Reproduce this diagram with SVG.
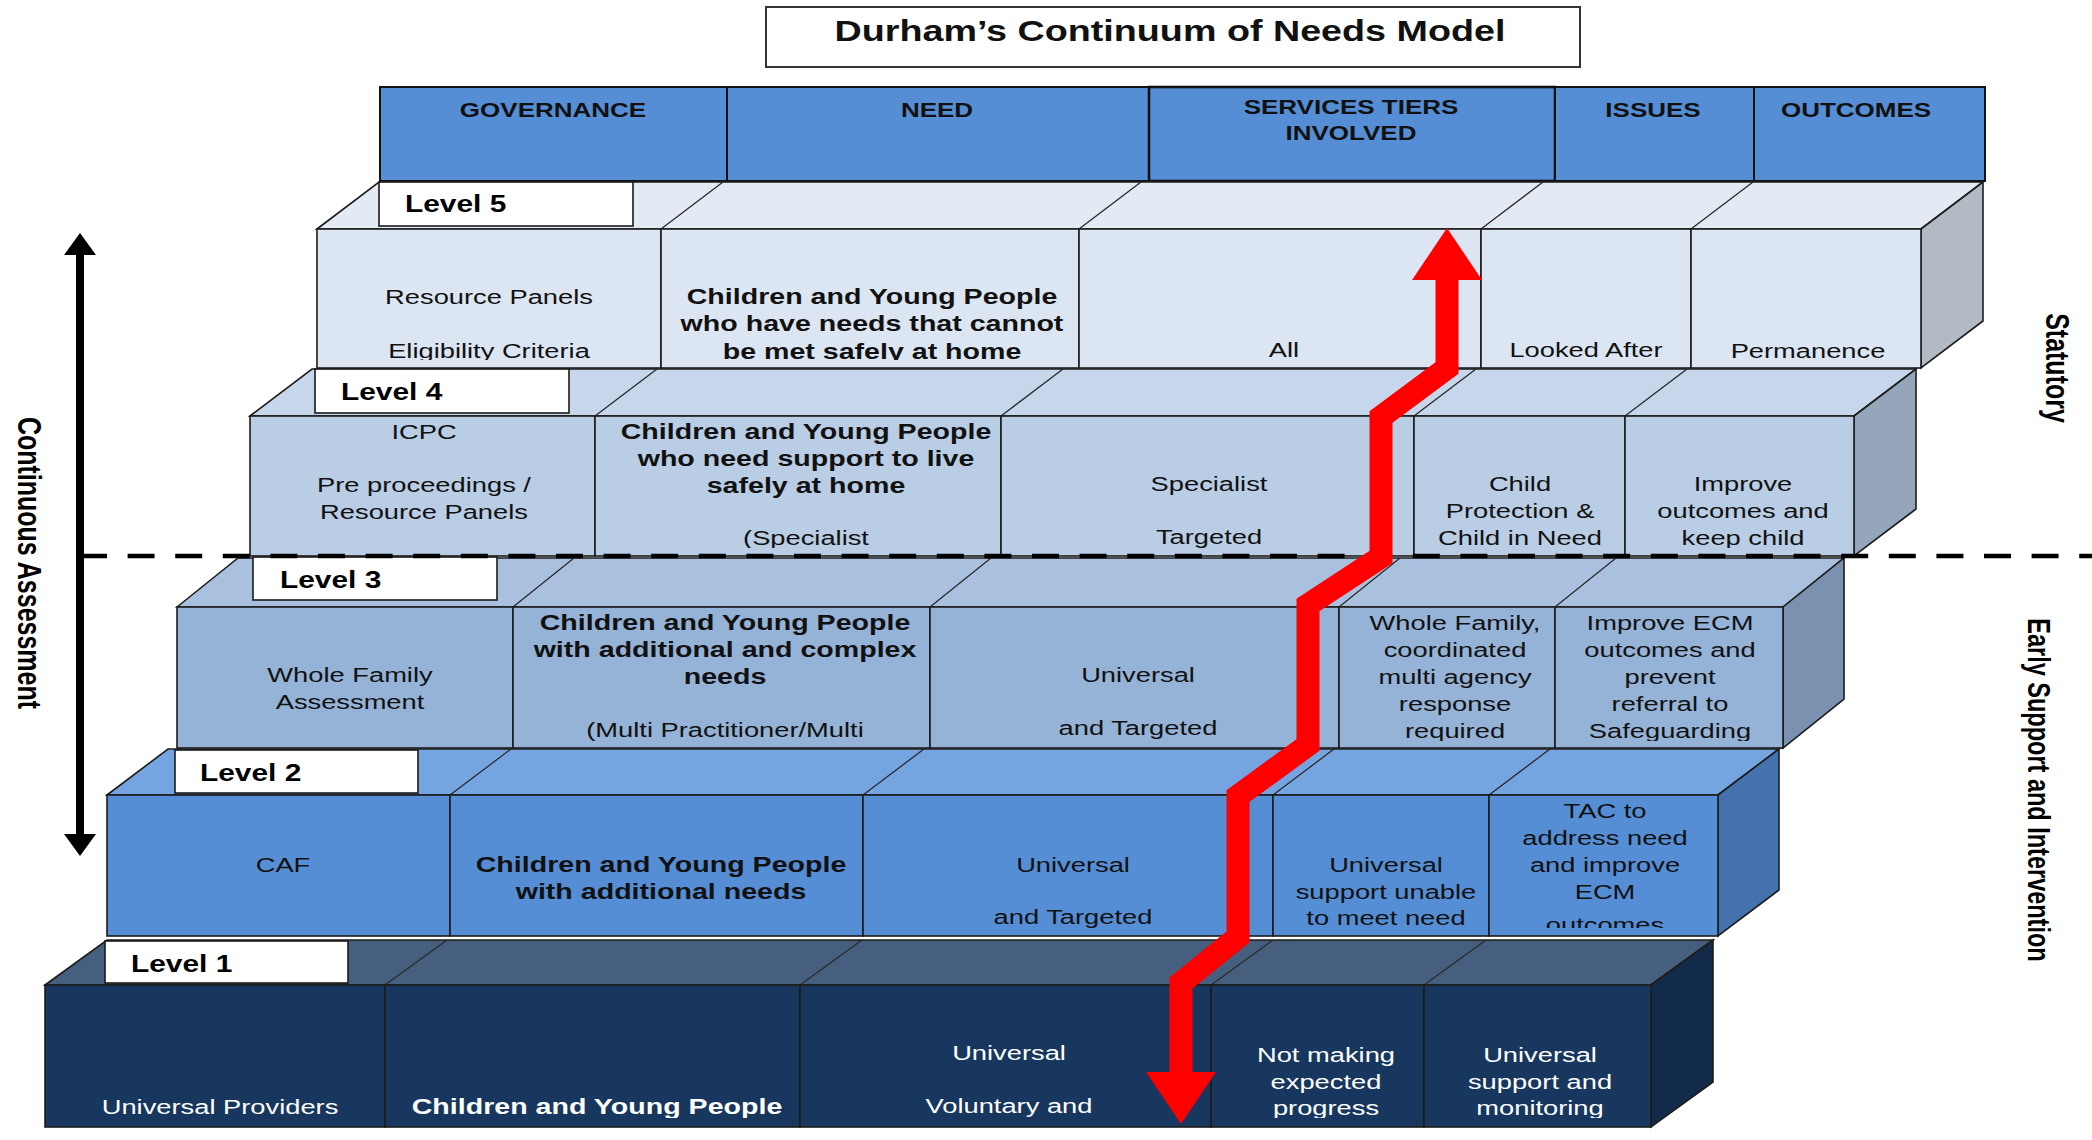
<svg xmlns="http://www.w3.org/2000/svg" width="2092" height="1140" viewBox="0 0 2092 1140">
<style>
.t{font-family:"Liberation Sans",Arial,sans-serif;font-size:21px;text-anchor:middle;fill:#111}
.b{font-weight:bold;font-size:22px}
.w{fill:#fff}
.hd{font-family:"Liberation Sans",Arial,sans-serif;font-weight:bold;font-size:20px;text-anchor:middle;fill:#111}
.lbl{font-family:"Liberation Sans",Arial,sans-serif;font-weight:bold;font-size:23px;fill:#000}
.side{font-family:"Liberation Sans",Arial,sans-serif;font-weight:bold;font-size:25px;text-anchor:middle;fill:#000}
.box{stroke:#1c1c1c;stroke-width:1.6}
.ln{stroke:#2a2a2a;stroke-width:1.3;fill:none}
.lb{fill:#fff;stroke:#1a1a1a;stroke-width:1.6}
.h{fill:#558ED5;stroke:#111;stroke-width:2}
.f5{fill:#DCE6F2}.p5{fill:#E3EAF4}.s5{fill:#B2BAC4}
.f4{fill:#B9CDE5}.p4{fill:#C6D6EB}.s4{fill:#95A6BA}
.f3{fill:#95B3D7}.p3{fill:#AAC0DF}.s3{fill:#7A91AF}
.f2{fill:#558ED5}.p2{fill:#75A5E0}.s2{fill:#4472AE}
.f1{fill:#17375E}.p1{fill:#465F7E}.s1{fill:#132B4A}
</style>
<defs>
<clipPath id="c5"><rect x="0" y="229" width="2092" height="131"/></clipPath>
<clipPath id="c4"><rect x="0" y="416" width="2092" height="132"/></clipPath>
<clipPath id="c3"><rect x="0" y="607" width="2092" height="134"/></clipPath>
<clipPath id="c2"><rect x="0" y="795" width="2092" height="133"/></clipPath>
<clipPath id="c1"><rect x="0" y="985" width="2092" height="133"/></clipPath>
<marker id="redHead" markerUnits="userSpaceOnUse" markerWidth="52" markerHeight="70" refX="0" refY="35" orient="auto-start-reverse" viewBox="0 0 52 70">
<path d="M0,0 L52,35 L0,70 Z" fill="#FF0000"/>
</marker>
<marker id="blkHead" markerUnits="userSpaceOnUse" markerWidth="22" markerHeight="32" refX="0" refY="16" orient="auto-start-reverse" viewBox="0 0 22 32">
<path d="M0,0 L22,16 L0,32 Z" fill="#000"/>
</marker>
</defs>
<rect width="2092" height="1140" fill="#fff"/>

<g id="title">
<rect x="766" y="7" width="814" height="60" fill="#fff" stroke="#333" stroke-width="2"/>
<g transform="translate(1170 0) scale(1.3 1)"><text class="hd" style="font-size:29px" y="41">Durham’s Continuum of Needs Model</text></g>
</g>

<g id="header">
<rect class="h" x="380" y="87" width="347" height="94"/>
<rect class="h" x="727" y="87" width="422" height="94"/>
<rect class="h" x="1149" y="87" width="406" height="94" style="stroke-width:2.6"/>
<rect class="h" x="1555" y="87" width="199" height="94"/>
<rect class="h" x="1754" y="87" width="231" height="94"/>
<g transform="translate(553 0) scale(1.3 1)"><text class="hd" y="117">GOVERNANCE</text></g>
<g transform="translate(937 0) scale(1.3 1)"><text class="hd" y="117">NEED</text></g>
<g transform="translate(1351 0) scale(1.3 1)"><text class="hd" y="114">SERVICES  TIERS</text><text class="hd" y="140">INVOLVED</text></g>
<g transform="translate(1653 0) scale(1.3 1)"><text class="hd" y="117">ISSUES</text></g>
<g transform="translate(1856 0) scale(1.3 1)"><text class="hd" y="117">OUTCOMES</text></g>
</g>

<!-- LEVEL 5 -->
<g id="level5">
<polygon class="p5 box" points="317,229 379,182 1983,182 1921,229"/>
<polygon class="s5 box" points="1921,229 1983,182 1983,321 1921,368"/>
<path class="ln" d="M661,229 L723,182 M1079,229 L1141,182 M1481,229 L1543,182 M1691,229 L1753,182"/>
<g id="l5-label"><rect class="lb" x="379" y="182" width="254" height="44"/><g transform="translate(405 0) scale(1.3 1)"><text class="lbl" y="212">Level 5</text></g></g>
<g id="l5-governance"><rect class="f5 box" x="317" y="229" width="344" height="139"/>
<g clip-path="url(#c5)"><g transform="translate(489 0) scale(1.3 1)"><text class="t" y="304">Resource Panels</text><text class="t" y="358">Eligibility  Criteria</text></g></g></g>
<g id="l5-need"><rect class="f5 box" x="661" y="229" width="418" height="139"/>
<g clip-path="url(#c5)"><g transform="translate(872 0) scale(1.3 1)"><text class="t b" y="304">Children and Young People</text><text class="t b" y="331">who have needs that cannot</text><text class="t b" y="359">be met safely at home</text></g></g></g>
<g id="l5-services"><rect class="f5 box" x="1079" y="229" width="402" height="139"/>
<g clip-path="url(#c5)"><g transform="translate(1284 0) scale(1.3 1)"><text class="t" y="357">All</text></g></g></g>
<g id="l5-issues"><rect class="f5 box" x="1481" y="229" width="210" height="139"/>
<g clip-path="url(#c5)"><g transform="translate(1586 0) scale(1.3 1)"><text class="t" y="357">Looked After</text></g></g></g>
<g id="l5-outcomes"><rect class="f5 box" x="1691" y="229" width="230" height="139"/>
<g clip-path="url(#c5)"><g transform="translate(1808 0) scale(1.3 1)"><text class="t" y="358">Permanence</text></g></g></g>
</g>

<!-- LEVEL 4 -->
<g id="level4">
<polygon class="p4 box" points="250,416 312,369 1916,369 1854,416"/>
<polygon class="s4 box" points="1854,416 1916,369 1916,509 1854,556"/>
<path class="ln" d="M595,416 L657,369 M1001,416 L1063,369 M1414,416 L1476,369 M1625,416 L1687,369"/>
<g id="l4-label"><rect class="lb" x="315" y="369" width="254" height="44"/><g transform="translate(341 0) scale(1.3 1)"><text class="lbl" y="400">Level 4</text></g></g>
<g id="l4-governance"><rect class="f4 box" x="250" y="416" width="345" height="140"/>
<g clip-path="url(#c4)"><g transform="translate(424 0) scale(1.3 1)"><text class="t" y="439">ICPC</text><text class="t" y="492">Pre proceedings /</text><text class="t" y="519">Resource Panels</text></g></g></g>
<g id="l4-need"><rect class="f4 box" x="595" y="416" width="406" height="140"/>
<g clip-path="url(#c4)"><g transform="translate(806 0) scale(1.3 1)"><text class="t b" y="439">Children and Young People</text><text class="t b" y="466">who need support to live</text><text class="t b" y="493">safely at home</text><text class="t" y="545">(Specialist</text></g></g></g>
<g id="l4-services"><rect class="f4 box" x="1001" y="416" width="413" height="140"/>
<g clip-path="url(#c4)"><g transform="translate(1209 0) scale(1.3 1)"><text class="t" y="491">Specialist</text><text class="t" y="544">Targeted</text></g></g></g>
<g id="l4-issues"><rect class="f4 box" x="1414" y="416" width="211" height="140"/>
<g clip-path="url(#c4)"><g transform="translate(1520 0) scale(1.3 1)"><text class="t" y="491">Child</text><text class="t" y="518">Protection &amp;</text><text class="t" y="545">Child in Need</text></g></g></g>
<g id="l4-outcomes"><rect class="f4 box" x="1625" y="416" width="229" height="140"/>
<g clip-path="url(#c4)"><g transform="translate(1743 0) scale(1.3 1)"><text class="t" y="491">Improve</text><text class="t" y="518">outcomes and</text><text class="t" y="545">keep child</text></g></g></g>
</g>

<!-- LEVEL 3 -->
<g id="level3">
<polygon class="p3 box" points="177,607 238,558 1844,558 1783,607"/>
<polygon class="s3 box" points="1783,607 1844,558 1844,699 1783,748"/>
<path class="ln" d="M513,607 L574,558 M930,607 L991,558 M1339,607 L1400,558 M1555,607 L1616,558"/>
<g id="l3-label"><rect class="lb" x="253" y="557" width="244" height="43"/><g transform="translate(280 0) scale(1.3 1)"><text class="lbl" y="588">Level 3</text></g></g>
<g id="l3-governance"><rect class="f3 box" x="177" y="607" width="336" height="141"/>
<g clip-path="url(#c3)"><g transform="translate(350 0) scale(1.3 1)"><text class="t" y="682">Whole Family</text><text class="t" y="709">Assessment</text></g></g></g>
<g id="l3-need"><rect class="f3 box" x="513" y="607" width="417" height="141"/>
<g clip-path="url(#c3)"><g transform="translate(725 0) scale(1.3 1)"><text class="t b" y="630">Children and Young People</text><text class="t b" y="657">with additional and complex</text><text class="t b" y="684">needs</text><text class="t" y="737">(Multi Practitioner/Multi</text></g></g></g>
<g id="l3-services"><rect class="f3 box" x="930" y="607" width="409" height="141"/>
<g clip-path="url(#c3)"><g transform="translate(1138 0) scale(1.3 1)"><text class="t" y="682">Universal</text><text class="t" y="735">and Targeted</text></g></g></g>
<g id="l3-issues"><rect class="f3 box" x="1339" y="607" width="216" height="141"/>
<g clip-path="url(#c3)"><g transform="translate(1455 0) scale(1.3 1)"><text class="t" y="630">Whole Family,</text><text class="t" y="657">coordinated</text><text class="t" y="684">multi agency</text><text class="t" y="711">response</text><text class="t" y="738">required</text></g></g></g>
<g id="l3-outcomes"><rect class="f3 box" x="1555" y="607" width="228" height="141"/>
<g clip-path="url(#c3)"><g transform="translate(1670 0) scale(1.3 1)"><text class="t" y="630">Improve  ECM</text><text class="t" y="657">outcomes and</text><text class="t" y="684">prevent</text><text class="t" y="711">referral to</text><text class="t" y="738">Safeguarding</text></g></g></g>
</g>

<!-- LEVEL 2 -->
<g id="level2">
<polygon class="p2 box" points="107,795 168,749 1779,749 1718,795"/>
<polygon class="s2 box" points="1718,795 1779,749 1779,890 1718,936"/>
<path class="ln" d="M450,795 L511,749 M863,795 L924,749 M1273,795 L1334,749 M1489,795 L1550,749"/>
<g id="l2-label"><rect class="lb" x="175" y="750" width="243" height="43"/><g transform="translate(200 0) scale(1.3 1)"><text class="lbl" y="781">Level 2</text></g></g>
<g id="l2-governance"><rect class="f2 box" x="107" y="795" width="343" height="141"/>
<g clip-path="url(#c2)"><g transform="translate(283 0) scale(1.3 1)"><text class="t" y="872">CAF</text></g></g></g>
<g id="l2-need"><rect class="f2 box" x="450" y="795" width="413" height="141"/>
<g clip-path="url(#c2)"><g transform="translate(661 0) scale(1.3 1)"><text class="t b" y="872">Children and Young People</text><text class="t b" y="899">with additional needs</text></g></g></g>
<g id="l2-services"><rect class="f2 box" x="863" y="795" width="410" height="141"/>
<g clip-path="url(#c2)"><g transform="translate(1073 0) scale(1.3 1)"><text class="t" y="872">Universal</text><text class="t" y="924">and Targeted</text></g></g></g>
<g id="l2-issues"><rect class="f2 box" x="1273" y="795" width="216" height="141"/>
<g clip-path="url(#c2)"><g transform="translate(1386 0) scale(1.3 1)"><text class="t" y="872">Universal</text><text class="t" y="899">support unable</text><text class="t" y="925">to meet need</text></g></g></g>
<g id="l2-outcomes"><rect class="f2 box" x="1489" y="795" width="229" height="141"/>
<g clip-path="url(#c2)"><g transform="translate(1605 0) scale(1.3 1)"><text class="t" y="818">TAC  to</text><text class="t" y="845">address need</text><text class="t" y="872">and improve</text><text class="t" y="899">ECM</text><text class="t" y="932">outcomes</text></g></g></g>
</g>

<!-- LEVEL 1 -->
<g id="level1">
<polygon class="p1 box" points="45,985 107,940 1713,940 1651,985"/>
<polygon class="s1 box" points="1651,985 1713,940 1713,1082 1651,1127"/>
<path class="ln" d="M385,985 L447,940 M800,985 L862,940 M1211,985 L1273,940 M1424,985 L1486,940"/>
<g id="l1-label"><rect class="lb" x="105" y="941" width="243" height="42"/><g transform="translate(131 0) scale(1.3 1)"><text class="lbl" y="972">Level 1</text></g></g>
<g id="l1-governance"><rect class="f1 box" x="45" y="985" width="340" height="142"/>
<g clip-path="url(#c1)"><g transform="translate(220 0) scale(1.3 1)"><text class="t w" y="1114">Universal Providers</text></g></g></g>
<g id="l1-need"><rect class="f1 box" x="385" y="985" width="415" height="142"/>
<g clip-path="url(#c1)"><g transform="translate(597 0) scale(1.3 1)"><text class="t b w" y="1114">Children and Young People</text></g></g></g>
<g id="l1-services"><rect class="f1 box" x="800" y="985" width="411" height="142"/>
<g clip-path="url(#c1)"><g transform="translate(1009 0) scale(1.3 1)"><text class="t w" y="1060">Universal</text><text class="t w" y="1113">Voluntary and</text></g></g></g>
<g id="l1-issues"><rect class="f1 box" x="1211" y="985" width="213" height="142"/>
<g clip-path="url(#c1)"><g transform="translate(1326 0) scale(1.3 1)"><text class="t w" y="1062">Not making</text><text class="t w" y="1089">expected</text><text class="t w" y="1115">progress</text></g></g></g>
<g id="l1-outcomes"><rect class="f1 box" x="1424" y="985" width="227" height="142"/>
<g clip-path="url(#c1)"><g transform="translate(1540 0) scale(1.3 1)"><text class="t w" y="1062">Universal</text><text class="t w" y="1089">support and</text><text class="t w" y="1115">monitoring</text></g></g></g>
</g>

<g id="threshold">
<line x1="80" y1="556" x2="2092" y2="556" stroke="#000" stroke-width="4.5" stroke-dasharray="27 20.6"/>
</g>

<g id="connectors">
<path d="M1447,280 L1447,368 L1381,417 L1381,557 L1308,605 L1308,745 L1238,796 L1238,937 L1181,983 L1181,1072" fill="none" stroke="#FF0000" stroke-width="23" stroke-linejoin="miter" marker-start="url(#redHead)" marker-end="url(#redHead)"/>
<path d="M80,255 L80,834" fill="none" stroke="#000" stroke-width="8" marker-start="url(#blkHead)" marker-end="url(#blkHead)"/>
</g>

<g id="side-labels">
<g transform="translate(18 563) scale(1.3 1) rotate(90)"><text class="side" x="0" y="0">Continuous Assessment</text></g>
<g transform="translate(2046 368) scale(1.3 1) rotate(90)"><text class="side" x="0" y="0">Statutory</text></g>
<g transform="translate(2028 790) scale(1.3 1) rotate(90)"><text class="side" style="font-size:23.5px" x="0" y="0">Early Support and Intervention</text></g>
</g>
</svg>
